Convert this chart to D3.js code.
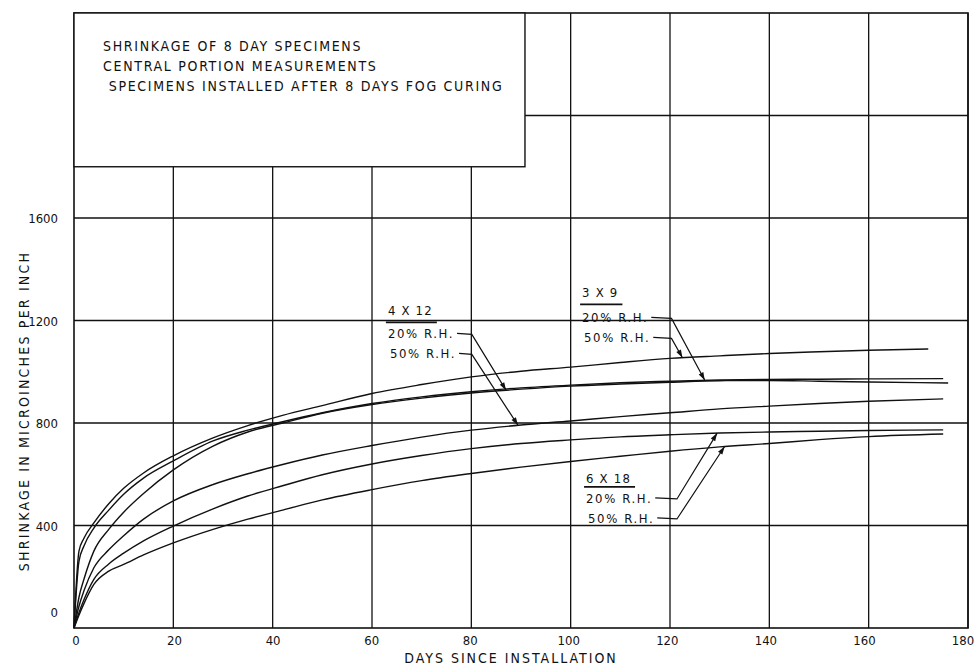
<!DOCTYPE html>
<html>
<head>
<meta charset="utf-8">
<script src="https://cdn.jsdelivr.net/npm/d3@7"></script>
<style>
  body { margin: 0; background: #fff; }
  svg { display: block; }
  text { font-family: "DejaVu Sans Condensed", "Liberation Sans Narrow", "DejaVu Sans", sans-serif; fill: #111; }
</style>
</head>
<body>
<svg id="chart" width="977" height="666"></svg>
<script>
// days since installation (shared by every curve, last point differs per curve)
const days = [0, 1, 2, 4, 7, 10, 14, 20, 28, 35, 42, 50, 60, 70, 80, 90, 100, 110, 120, 130, 140, 150, 160];
const lastDays = [172, 175, 176, 175, 175, 175];

// shrinkage, microinches per inch
const s3x9_50 = [0, 300, 350, 410, 485, 545, 605, 672, 742, 790, 830, 868, 915, 950, 980, 1002, 1018, 1036, 1052, 1062, 1071, 1078, 1084, 1089];
const s3x9_20 = [0, 260, 320, 390, 460, 522, 585, 652, 730, 772, 805, 840, 876, 902, 922, 937, 948, 957, 963, 968, 970, 971, 972, 973];
const s4x12_20 = [0, 120, 190, 300, 385, 452, 525, 617, 710, 765, 800, 838, 872, 897, 917, 932, 944, 952, 959, 965, 966, 963, 960, 956];
const s4x12_50 = [0, 85, 145, 235, 305, 360, 425, 496, 560, 602, 638, 675, 712, 745, 772, 792, 808, 825, 840, 855, 866, 876, 885, 894];
const s6x18_20 = [0, 60, 110, 190, 250, 292, 340, 398, 465, 515, 555, 598, 640, 673, 700, 720, 734, 746, 754, 761, 765, 768, 771, 773];
const s6x18_50 = [0, 50, 95, 170, 222, 248, 285, 332, 385, 425, 460, 500, 540, 575, 603, 628, 650, 670, 690, 707, 720, 735, 747, 757];
const seriesList = [s3x9_50, s3x9_20, s4x12_20, s4x12_50, s6x18_20, s6x18_50];

const xTicks = [0, 20, 40, 60, 80, 100, 120, 140, 160, 180];
const yTicks = [0, 400, 800, 1200, 1600];
const yGrid = [400, 800, 1200, 1600, 2000];
const titleLines = [
  "SHRINKAGE OF 8 DAY SPECIMENS",
  "CENTRAL PORTION MEASUREMENTS",
  " SPECIMENS INSTALLED AFTER 8 DAYS FOG CURING"
];
const xLabel = "DAYS SINCE INSTALLATION";
const yLabel = "SHRINKAGE IN MICROINCHES PER INCH";

const svg = d3.select("#chart");
const x = d3.scaleLinear().domain([0, 180]).range([74, 968]);
const y = d3.scaleLinear().domain([0, 2400]).range([628, 13]);
const ink = "#111";

// grid
svg.append("g").selectAll("line")
  .data(xTicks.slice(1))
  .join("line")
  .attr("x1", d => x(d)).attr("x2", d => x(d))
  .attr("y1", y(2400)).attr("y2", y(0))
  .attr("stroke", ink).attr("stroke-width", 1.3);

svg.append("g").selectAll("line")
  .data(yGrid)
  .join("line")
  .attr("x1", x(0)).attr("x2", x(180))
  .attr("y1", d => y(d)).attr("y2", d => y(d))
  .attr("stroke", ink).attr("stroke-width", 1.3);

// frame
svg.append("rect")
  .attr("x", x(0)).attr("y", y(2400))
  .attr("width", x(180) - x(0)).attr("height", y(0) - y(2400))
  .attr("fill", "none").attr("stroke", ink).attr("stroke-width", 1.6);

// title box (covers the grid)
const box = svg.append("g");
box.append("rect")
  .attr("x", x(0)).attr("y", y(2400))
  .attr("width", x(90.8) - x(0)).attr("height", y(1800) - y(2400))
  .attr("fill", "#fff").attr("stroke", ink).attr("stroke-width", 1.4);
box.selectAll("text")
  .data(titleLines)
  .join("text")
  .attr("x", 103)
  .attr("y", (d, i) => 51 + i * 20)
  .attr("font-size", 14)
  .attr("letter-spacing", 1.7)
  .style("white-space", "pre")
  .text(d => d);

// curves
const line = d3.line()
  .x(d => x(d[0]))
  .y(d => y(d[1]))
  .curve(d3.curveMonotoneX);

const pts = (s, i) => s.map((v, j) => [j < days.length ? days[j] : lastDays[i], v]);

svg.append("g").selectAll("path")
  .data(seriesList)
  .join("path")
  .attr("d", (s, i) => line(pts(s, i)))
  .attr("fill", "none")
  .attr("stroke", ink)
  .attr("stroke-width", 1.4);

// axis labels
svg.append("g").selectAll("text")
  .data(xTicks)
  .join("text")
  .attr("x", d => x(d) + 2 - d / 180 * 7)
  .attr("y", 645)
  .attr("text-anchor", "middle")
  .attr("font-size", 13)
  .text(d => d);

svg.append("g").selectAll("text")
  .data(yTicks)
  .join("text")
  .attr("x", 58)
  .attr("y", d => y(d) + (d === 0 ? -11 : 5))
  .attr("text-anchor", "end")
  .attr("font-size", 13)
  .text(d => d);

svg.append("text")
  .attr("x", 511).attr("y", 663)
  .attr("text-anchor", "middle")
  .attr("font-size", 14)
  .attr("letter-spacing", 2)
  .text(xLabel);

svg.append("text")
  .attr("transform", `translate(29,${(y(0) + y(1600)) / 2 - 12}) rotate(-90)`)
  .attr("text-anchor", "middle")
  .attr("font-size", 14)
  .attr("letter-spacing", 2.2)
  .text(yLabel);

// callouts
const valueAt = (si, day) => {
  const p = pts(seriesList[si], si);
  return d3.scaleLinear().domain(p.map(d => d[0])).range(p.map(d => d[1]))(day);
};

const notes = [
  { title: "4 X 12", at: [63.2, 1220], elbow: 80.1, offs: [7, 23, 43], arrows: [{ s: 2, day: 87 }, { s: 3, day: 89.4 }] },
  { title: "3 X 9", at: [102.3, 1290], elbow: 120.3, offs: [7, 25, 45], arrows: [{ s: 1, day: 127 }, { s: 0, day: 122.5 }] },
  { title: "6 X 18", at: [103.1, 566], elbow: 121.4, offs: [4, 20, 40], arrows: [{ s: 4, day: 129.5 }, { s: 5, day: 131 }] }
];
const rhLabels = ["20% R.H.", "50% R.H."];

notes.forEach(n => {
  const g = svg.append("g");
  const x0 = x(n.at[0]), b0 = y(n.at[1]);
  const t = g.append("text")
    .attr("x", x0).attr("y", b0)
    .attr("font-size", 13)
    .attr("letter-spacing", 1.2)
    .text(n.title);
  const tw = t.node().getComputedTextLength();
  g.append("line")
    .attr("x1", x0 - 2).attr("x2", x0 + tw + 4)
    .attr("y1", b0 + n.offs[0]).attr("y2", b0 + n.offs[0])
    .attr("stroke", ink).attr("stroke-width", 1.8);

  n.arrows.forEach((a, k) => {
    const by = b0 + n.offs[k + 1];
    const lt = g.append("text")
      .attr("x", x0 + (k ? 2 : 0)).attr("y", by)
      .attr("font-size", 13)
      .attr("letter-spacing", 1.6)
      .text(rhLabels[k]);
    const lw = lt.node().getComputedTextLength();
    const ly = by - 5;
    const ex = x(n.elbow);
    const tx = x(a.day), ty = y(valueAt(a.s, a.day));
    g.append("polyline")
      .attr("points", [[x0 + (k ? 2 : 0) + lw + 3, ly], [ex, ly + 1], [tx, ty]].map(p => p.join(",")).join(" "))
      .attr("fill", "none")
      .attr("stroke", ink)
      .attr("stroke-width", 1.2);
    // arrow head
    const ang = Math.atan2(ty - ly, tx - ex);
    const L = 8, W = 2.6;
    const bx = tx - L * Math.cos(ang), byy = ty - L * Math.sin(ang);
    g.append("path")
      .attr("d", `M${tx},${ty}L${bx - W * Math.sin(ang)},${byy + W * Math.cos(ang)}L${bx + W * Math.sin(ang)},${byy - W * Math.cos(ang)}Z`)
      .attr("fill", ink);
  });
});
</script>
</body>
</html>
